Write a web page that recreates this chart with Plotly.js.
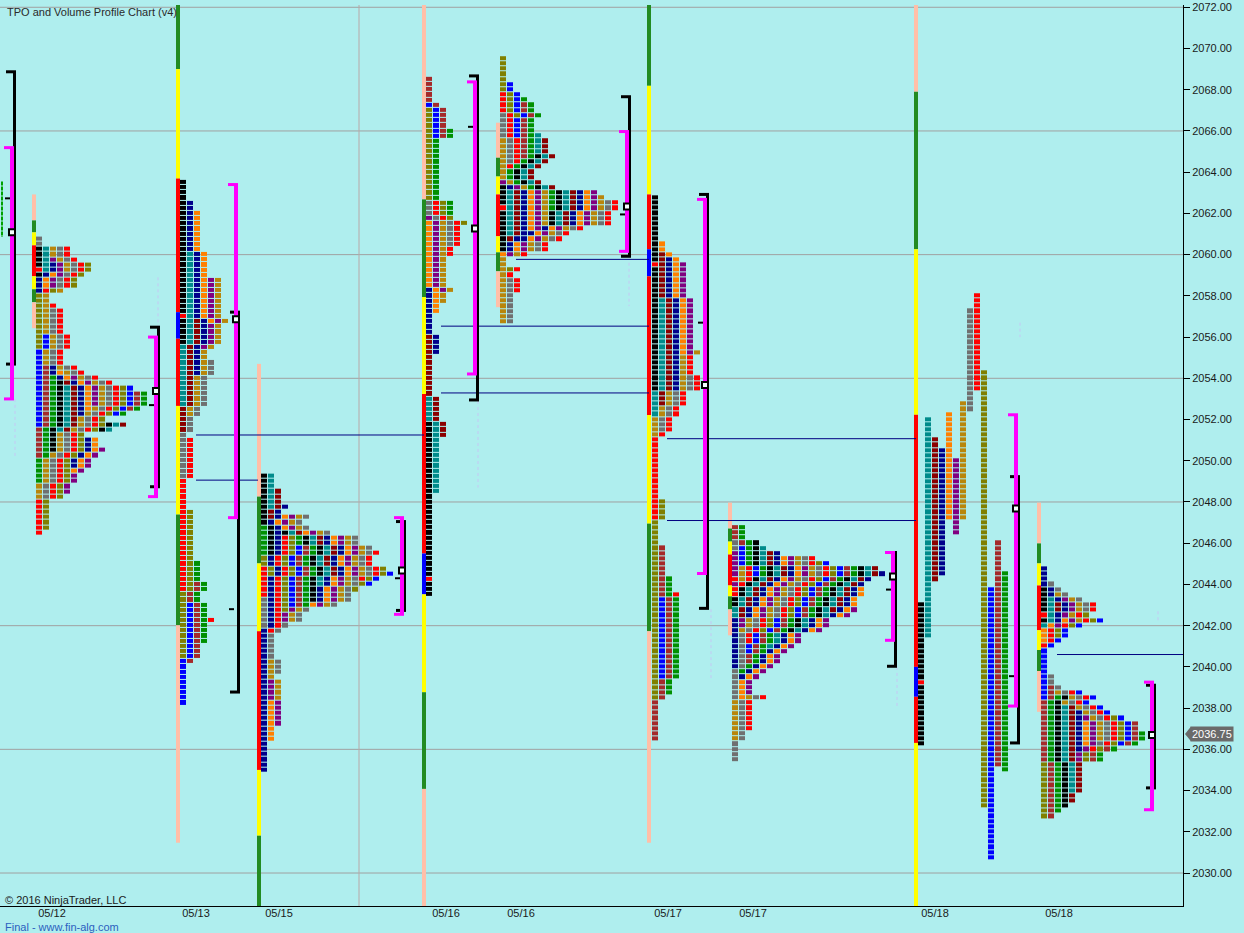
<!DOCTYPE html>
<html><head><meta charset="utf-8">
<script src="https://cdn.plot.ly/plotly-3.0.1.min.js"></script>
<style>html,body{margin:0;padding:0;background:#AFEEEE;}#chart{width:1244px;height:933px;}</style>
</head><body><div id="chart"></div>
<script>
// ================= DATA =================
const letterCycle = ['K','T','D','N','O','P','G','A','R','L','B','F','E'];
const tpoColors = {K:'#000000',T:'#008B8B',D:'#8B0000',N:'#00008B',O:'#FF8000',P:'#800080',G:'#B8860B',A:'#707070',R:'#FF0000',L:'#808000',B:'#0000FF',F:'#A52A2A',E:'#009000'};
const barColor = {p:'#FFBFA8', g:'#228B22', y:'#FFFF00', r:'#FF0000', b:'#0000FF'};

const labelX    = [52, 196, 279, 446, 521, 668, 753, 935, 1059];
const labelText = ['05/12','05/13','05/15','05/16','05/16','05/17','05/17','05/18','05/18'];
const yTicks = [2030,2032,2034,2036,2038,2040,2042,2044,2046,2048,2050,2052,2054,2056,2058,2060,2062,2064,2066,2068,2070,2072];
const gridPrices = [2030, 2036, 2042, 2048, 2054, 2060, 2066, 2072];

const profileX = [36, 180, 261, 426, 500, 652, 732, 918, 1041];

// --- half-hour periods: TPO letter colour, period high, period low (chronological)
const p1Letters = ['K','T','N','O','P','G','A','R','L','B','F','E','K','T','D','N','O','P','G','A','R','L','B','F','E','K','T','D','N','O','P'];
const p1High = [2060.25,2060.25,2059.5,2059.0,2059.75,2060.25,2060.75,2060.25,2059.5,2056.0,2054.5,2054.0,2053.75,2053.5,2053.75,2054.5,2054.25,2054.0,2058.25,2057.25,2057.5,2053.5,2053.5,2053.25,2053.25,2051.75,2051.75,2051.75,2051.0,2051.0,2050.5];
const p1Low  = [2059.0,2059.25,2058.25,2058.5,2058.5,2059.25,2058.5,2058.25,2055.5,2051.75,2050.25,2049.0,2050.5,2051.5,2051.5,2052.25,2052.5,2052.75,2048.25,2048.25,2046.5,2046.75,2052.25,2052.5,2052.25,2051.5,2051.5,2051.75,2049.75,2049.5,2048.5];
const p1Open = 2059.25;

const p2Letters = ['K','T','D','N','O','P','G','A','R','L','B','F','E','R'];
const p2High = [2063.5, 2060.0, 2056.75, 2062.5, 2062.0, 2058.75, 2058.75, 2054.75, 2051.0, 2047.5, 2043.0, 2044.0, 2045.0, 2042.25];
const p2Low  = [2055.75, 2052.75, 2051.5, 2054.25, 2056.75, 2055.5, 2052.25, 2049.25, 2043.75, 2040.5, 2038.25, 2040.25, 2041.25, 2042.25];
const p2Open = 2057.0;

const p3Letters = ['A','R','L','E','K','T','D','N','O','P','G','A','R','L','B','F','E','K','T','D','N','O','P','G','A','R','L','B'];
const p3High = [2043.25,2044.75,2045.25,2046.75,2049.25,2049.25,2048.5,2047.75,2038.25,2039.25,2040.25,2041.5,2046.25,2046.25,2045.75,2045.75,2046.25,2046.5,2046.5,2046.5,2046.25,2047.25,2047.25,2047.25,2047.25,2045.5,2044.75,2044.5];
const p3Low  = [2042.0,2043.5,2044.5,2045.5,2045.5,2047.75,2047.25,2035.0,2036.5,2037.25,2038.5,2039.75,2041.75,2042.75,2043.0,2043.0,2043.0,2043.25,2044.0,2044.5,2043.25,2043.0,2042.25,2042.25,2041.75,2044.25,2043.75,2044.0];
const p3Open = null;

const p4Letters = ['K','T','D','N','O','P','G','A','R','L','B','F','E'];
const p4High = [2051.75, 2053.0, 2056.0, 2058.25, 2061.5, 2061.75, 2061.5, 2062.5, 2062.5, 2067.0, 2067.25, 2068.5, 2066.0];
const p4Low  = [2043.5, 2048.5, 2051.25, 2055.25, 2057.25, 2058.25, 2057.75, 2060.5, 2060.0, 2061.5, 2065.75, 2065.75, 2062.0];
const p4Open = 2044.25;

const p5Letters = ['K','T','D','N','O','P','G','A','R','L','B','F','E','K','T','D','N','O','P','G','A','R','L','A','R'];
const p5High = [2063.25,2063.0,2063.0,2063.25,2063.0,2063.5,2065.5,2066.75,2067.75,2069.5,2068.25,2067.25,2067.5,2064.75,2065.75,2065.5,2063.0,2063.0,2063.0,2062.75,2062.5,2062.5,2059.25,2058.75,2059.25];
const p5Low  = [2060.25,2061.0,2060.75,2060.25,2061.25,2061.25,2061.5,2064.5,2064.25,2066.75,2065.75,2064.75,2062.25,2061.5,2061.5,2061.5,2060.75,2060.0,2060.0,2056.75,2060.25,2060.0,2059.25,2056.75,2058.25];
const p5Open = 2062.25;

const p6Letters = ['K','T','D','N','O','P','G','A','R','L','B','F','E','R'];
const p6High = [2062.75, 2057.75, 2060.0, 2059.75, 2060.5, 2059.5, 2055.25, 2054.0, 2055.0, 2048.0, 2043.25, 2045.75, 2044.25, 2043.5];
const p6Low  = [2053.5, 2052.25, 2052.75, 2053.5, 2055.25, 2055.25, 2051.25, 2051.5, 2047.25, 2038.5, 2039.5, 2036.5, 2038.75, 2043.5];
const p6Open = 2059.5;

const p7Letters = ['P','G','A','R','B','F','E','K','T','D','N','O','P','G','A','R','L','B','F','E','K','T','D','N','O','P','G','A','R'];
const p7High = [2045.5,2044.75,2046.0,2044.75,2045.75,2046.75,2046.75,2046.0,2045.75,2045.5,2045.5,2045.25,2045.25,2045.25,2045.25,2045.25,2045.0,2045.0,2044.75,2044.75,2044.75,2044.75,2044.75,2044.5,2043.75,2042.75,2038.5,2038.5,2038.5];
const p7Low  = [2044.0,2044.25,2045.75,2043.5,2044.5,2046.0,2044.5,2043.0,2042.5,2042.5,2040.0,2042.5,2042.0,2041.75,2038.5,2041.25,2041.75,2040.75,2040.25,2039.75,2041.75,2041.0,2042.75,2039.5,2038.5,2038.75,2036.5,2035.5,2037.0];
const p7Open = 2044.25;

const p8Letters = ['K','T','D','N','O','P','G','A','R','L','B','F','E'];
const p8High = [2043.0, 2052.0, 2051.0, 2050.5, 2052.25, 2050.0, 2052.75, 2057.25, 2058.0, 2054.25, 2043.75, 2046.0, 2044.5];
const p8Low  = [2036.25, 2041.5, 2044.25, 2044.5, 2047.25, 2046.5, 2047.25, 2052.5, 2053.5, 2033.25, 2030.75, 2035.25, 2035.0];
const p8Open = 2039.25;

const p9Letters = ['K','T','D','N','O','P','G','A','R','L','B','F','E','K','T','D','N','O','P','G','A','R','L','B','F','E','K','T','D'];
const p9High = [2043.75,2043.25,2043.0,2044.75,2042.25,2043.25,2043.5,2044.0,2043.0,2042.5,2042.25,2039.0,2038.5,2038.5,2038.0,2038.0,2037.75,2037.25,2037.5,2038.75,2039.5,2038.75,2037.5,2038.75,2037.25,2036.75,2035.25,2035.25,2035.25];
const p9Low  = [2042.25,2042.0,2042.75,2042.25,2041.25,2042.0,2042.25,2042.75,2041.0,2041.5,2038.5,2035.5,2035.5,2035.5,2035.5,2035.5,2036.0,2036.25,2035.5,2036.5,2036.25,2036.0,2032.75,2036.25,2032.75,2033.0,2033.25,2034.0,2033.5];
const p9Open = 2042.5;

// day range bars
const dayBarX = [32, 176, 257, 422, 496, 647, 728, 914, 1037];
const dayBarBounds = [
  [2062.92,2061.66,2061.08,2060.45,2058.95,2058.32,2057.69,2056.43],
  [2072.11,2069.0,2063.69,2057.21,2055.92,2052.66,2047.39,2042.02,2031.47],
  [2054.7,2048.26,2045.02,2041.73,2035.0,2031.81,2028.40],
  [2072.11,2062.68,2057.94,2053.24,2045.5,2043.52,2038.77,2034.08,2028.40],
  [2066.4,2064.7,2063.79,2062.92,2060.89,2060.11,2059.19,2057.45],
  [2072.11,2068.19,2062.92,2060.26,2058.95,2052.22,2046.95,2041.73,2031.47],
  [2047.97,2046.71,2046.08,2045.45,2043.95,2043.42,2042.79,2041.53],
  [2072.11,2067.9,2060.26,2052.23,2040.0,2038.55,2036.31,2028.40],
  [2047.97,2045.99,2045.02,2043.95,2041.78,2040.82,2039.8,2037.82]
];
const dayBarSegs = ['pgyrygp','gyrbrygp','pgyryg','pgyrbygp','pgyrygp','gyrbrygp','pgyrygp','pgyrbry','pgyrygp'];

// value area (magenta), range (black), POC
const bracketX = [12, 156, 236, 402, 475, 627, 705, 893, 1016, 1152];
const blackHi = [2068.87, 2056.48, 2057.21, 2047.05, 2068.67, 2067.66, 2062.92, 2045.55, 2049.23, 2039.11];
const blackLo = [2054.69, 2048.74, 2038.78, 2042.74, 2052.95, 2059.92, 2042.84, 2040.03, 2036.31, 2034.13];
const vaHi = [2065.19, 2056.0, 2063.4, 2047.24, 2068.38, 2065.97, 2062.68, 2045.55, 2052.23, 2039.26];
const vaLo = [2053.0, 2048.26, 2047.24, 2042.55, 2054.21, 2060.16, 2044.53, 2041.29, 2038.10, 2033.07];
const pocPrice = [2061.08, 2053.39, 2056.87, 2044.68, 2061.27, 2062.34, 2053.68, 2044.39, 2047.68, 2036.70];
const bracketTicks = [[2062.73], [2052.7], [2042.8], [2044.3], [2066.2], [2061.95], [2056.7], [2043.75], [2039.55], []];

// naked POC lines
const nakedPrice = [2051.25, 2049.06, 2056.53, 2053.29, 2059.77, 2051.07, 2047.1, 2040.6];
const nakedFrom  = [196, 196, 441, 441, 516, 667, 667, 1057];
const nakedTo    = [424, 258, 649, 649, 649, 916, 916, 1183];

// faint volume marks
const faintX  = [15, 158, 478, 629, 711, 897, 1020, 1158];
const faintHi = [2053.0, 2058.9, 2052.9, 2059.9, 2042.8, 2040.0, 2056.7, 2042.7];
const faintLo = [2050.2, 2056.4, 2048.7, 2057.5, 2039.3, 2038.0, 2056.0, 2042.2];

const lastPrice = 2036.75;

// ================= BUILD =================
const colorscale = [];
letterCycle.forEach((L, i) => { colorscale.push([i/13, tpoColors[L]]); colorscale.push([(i+1)/13, tpoColors[L]]); });
const RED = letterCycle.indexOf('R');

function periodCells(letters, high, low, split) {
  const qH = Math.round(Math.max(...high)*4), qL = Math.round(Math.min(...low)*4);
  const cells = [];
  for (let q = qH; q >= qL; q--) {
    let col = 0;
    letters.forEach((L, i) => {
      if (q <= Math.round(high[i]*4) && q >= Math.round(low[i]*4)) {
        cells.push({q, col: split ? i : col, ci: letterCycle.indexOf(L)});
        col++;
      }
    });
  }
  return cells;
}
function heatTrace(x0, cells, open) {
  let qMin = Infinity, qMax = -Infinity, cMax = 0;
  cells.forEach(c => { qMin = Math.min(qMin, c.q); qMax = Math.max(qMax, c.q); cMax = Math.max(cMax, c.col); });
  const ys = [], z = [];
  for (let q = qMin; q <= qMax; q++) { ys.push(q/4); z.push(new Array(cMax+1).fill(null)); }
  cells.forEach(c => { z[c.q - qMin][c.col] = c.ci; });
  if (open !== null && open !== undefined) {
    const row = z[Math.round(open*4) - qMin];
    if (row) { let j = row.findIndex(v => v !== null); if (j >= 0) row[j] = RED; }
  }
  const xs = []; for (let j = 0; j <= cMax; j++) xs.push(x0 + 3.5 + 7*j);
  return {type:'heatmap', x: xs, y: ys, z, zmin: -0.5, zmax: 12.5, colorscale, showscale: false,
          xgap: 1, ygap: 1, hoverinfo: 'skip'};
}

const profiles = [
  [p1Letters, p1High, p1Low, false, p1Open],
  [p2Letters, p2High, p2Low, false, p2Open],
  [p3Letters, p3High, p3Low, false, p3Open],
  [p4Letters, p4High, p4Low, false, p4Open],
  [p5Letters, p5High, p5Low, false, p5Open],
  [p6Letters, p6High, p6Low, false, p6Open],
  [p7Letters, p7High, p7Low, false, p7Open],
  [p8Letters, p8High, p8Low, true,  p8Open],
  [p9Letters, p9High, p9Low, false, p9Open]
];
const traces = profiles.map((p, i) => heatTrace(profileX[i], periodCells(p[0], p[1], p[2], p[3]), p[4]));
traces.push({type:'scatter', mode:'markers', x: bracketX, y: pocPrice, hoverinfo:'skip',
  marker:{symbol:'square', size:6, color:'#F4FFFF', line:{color:'#000000', width:2}}});

const shapes = [];
function ln(x0, y0, x1, y1, color, width, extra) {
  shapes.push(Object.assign({type:'line', xref:'x', yref:'y', x0, y0, x1, y1, layer:'below',
    line:{color, width}}, extra || {}));
}
gridPrices.forEach(p => shapes.push({type:'line', xref:'paper', yref:'y', x0:0, x1:1, y0:p, y1:p, layer:'below', line:{color:'#A0A0A0', width:1}}));
shapes.push({type:'line', xref:'x', yref:'paper', x0:359, x1:359, y0:0, y1:1, layer:'below', line:{color:'#B8A8A8', width:1}});
faintX.forEach((x, i) => ln(x, faintHi[i], x, faintLo[i], '#C4C8F4', 1, {line:{color:'#C4C8F4', width:1, dash:'dot'}}));
ln(2, 2063.55, 2, 2060.85, '#00A000', 2, {line:{color:'#00A000', width:2, dash:'4px,1px'}});

dayBarX.forEach((x, i) => {
  const b = dayBarBounds[i], s = dayBarSegs[i];
  for (let k = 0; k < s.length; k++) {
    shapes.push({type:'rect', xref:'x', yref:'y', x0:x, x1:x+4, y0:b[k], y1:b[k+1], layer:'below',
      fillcolor: barColor[s[k]], line:{width:0}});
  }
});
nakedPrice.forEach((p, i) => ln(nakedFrom[i], p, nakedTo[i], p, '#000080', 1));
bracketX.forEach((mx, i) => {
  ln(mx+2.5, blackHi[i], mx+2.5, blackLo[i], '#000000', 3);
  ln(mx-6, blackHi[i], mx+4, blackHi[i], '#000000', 3);
  ln(mx-6, blackLo[i], mx+4, blackLo[i], '#000000', 3);
  ln(mx, vaHi[i], mx, vaLo[i], '#FF00FF', 4);
  ln(mx-8, vaHi[i], mx+2, vaHi[i], '#FF00FF', 3);
  ln(mx-8, vaLo[i], mx+2, vaLo[i], '#FF00FF', 3);
  bracketTicks[i].forEach(t => ln(mx-7, t, mx-2, t, '#000000', 2));
});
shapes.push({type:'path', xref:'paper', yref:'y', layer:'above', fillcolor:'#6A6A6A', line:{width:0},
  path:`M ${1185/1183},${lastPrice} L ${1191/1183},${lastPrice+0.36} L ${1191/1183},${lastPrice-0.36} Z`});

const annotations = [
  {xref:'paper', yref:'paper', x:5/1183, y:1-(12-5)/901, xanchor:'left', yanchor:'middle', showarrow:false,
   text:'TPO and Volume Profile Chart (v4)', font:{size:11, color:'#2A2A2A'}},
  {xref:'paper', yref:'paper', x:3/1183, y:(906-900)/901, xanchor:'left', yanchor:'middle', showarrow:false,
   text:'© 2016 NinjaTrader, LLC', font:{size:11, color:'#1A1A1A'}},
  {xref:'paper', yref:'paper', x:3/1183, y:-(927-906)/901, xanchor:'left', yanchor:'middle', showarrow:false,
   text:'Final - www.fin-alg.com', font:{size:11, color:'#2B5FC0'}},
  {xref:'paper', yref:'y', x:1190/1183, y:lastPrice, xanchor:'left', yanchor:'middle', showarrow:false,
   text:lastPrice.toFixed(2), font:{size:11, color:'#FFFFFF'}, bgcolor:'#6A6A6A', borderpad:1}
];

const layout = {
  width:1244, height:933,
  margin:{l:0, r:61, t:5, b:27, pad:0},
  paper_bgcolor:'#AFEEEE', plot_bgcolor:'#AFEEEE',
  showlegend:false,
  font:{family:'"Liberation Sans", Arial, sans-serif', size:11, color:'#1A1A1A'},
  xaxis:{range:[0,1183], showgrid:false, zeroline:false, showline:true, linecolor:'#000000', linewidth:1,
         ticks:'', ticklabelstandoff:-3, tickvals:labelX, ticktext:labelText, tickfont:{size:11, color:'#1A1A1A'}, fixedrange:true},
  yaxis:{side:'right', range:[2028.40, 2072.11], showgrid:false, zeroline:false, showline:true,
         linecolor:'#000000', linewidth:1, ticks:'outside', ticklen:6, tickcolor:'#000000',
         tickvals:yTicks, tickformat:'.2f', tickfont:{size:11, color:'#1A1A1A'}, fixedrange:true},
  shapes, annotations
};
Plotly.newPlot('chart', traces, layout, {staticPlot:true, displayModeBar:false});
</script></body></html>
